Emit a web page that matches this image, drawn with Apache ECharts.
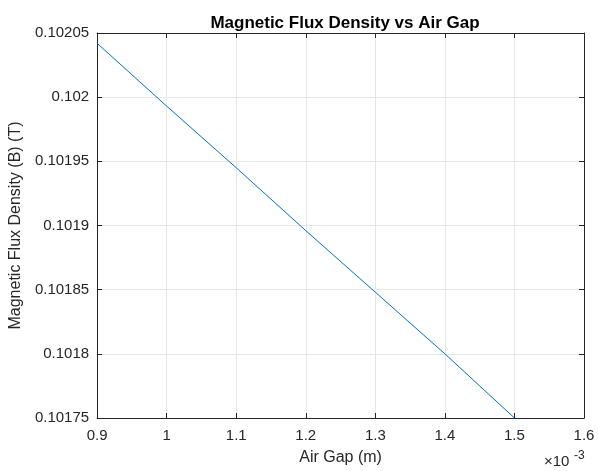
<!DOCTYPE html>
<html>
<head>
<meta charset="utf-8">
<script src="https://cdn.jsdelivr.net/npm/echarts@6/dist/echarts.min.js"></script>
<style>
  html, body { margin: 0; padding: 0; background: #fff; }
  #chart { width: 598px; height: 471px; }
</style>
</head>
<body>
<div id="chart"></div>
<script>
// air gap in units of 1e-3 m
const airGap = [0.9, 1.0, 1.1, 1.2, 1.3, 1.4, 1.5]
// magnetic flux density (T)
const fluxDensity = [0.102042, 0.101993, 0.101945, 0.101896, 0.101848, 0.1018, 0.10175]

const font = 'Liberation Sans, Arial, sans-serif'
const axisColor = '#262626'
const gridColor = '#e6e6e6'

const myEchart = echarts.init(document.getElementById('chart'))

const baseX = {
  type: 'value',
  min: 0.9,
  max: 1.6,
  interval: 0.1,
  axisLine: { show: true, onZero: false, lineStyle: { color: axisColor, width: 1 } },
  axisTick: { show: true, inside: true, length: 5, lineStyle: { color: axisColor } }
}
const baseY = {
  type: 'value',
  min: 0.10175,
  max: 0.10205,
  interval: 0.00005,
  axisLine: { show: true, onZero: false, lineStyle: { color: axisColor, width: 1 } },
  axisTick: { show: true, inside: true, length: 5, lineStyle: { color: axisColor } }
}

const option = {
  animation: false,
  backgroundColor: '#fff',
  title: {
    text: 'Magnetic Flux Density vs Air Gap',
    left: 340,
    textAlign: 'center',
    top: 10,
    textStyle: { fontFamily: font, fontSize: 17, fontWeight: 'bold', color: '#000' }
  },
  grid: { left: 96, right: 14, top: 33, bottom: 51, containLabel: false },
  xAxis: [
    {
      ...baseX,
      position: 'bottom',
      name: 'Air Gap (m)',
      nameLocation: 'middle',
      nameGap: 32,
      nameTextStyle: { fontFamily: font, fontSize: 16, color: axisColor },
      axisLabel: {
        fontFamily: font, fontSize: 15, color: axisColor, margin: 10,
        formatter: (v) => String(parseFloat(v.toFixed(2)))
      },
      splitLine: { show: true, lineStyle: { color: gridColor, width: 1 } }
    },
    { ...baseX, position: 'top', axisLabel: { show: false }, splitLine: { show: false } }
  ],
  yAxis: [
    {
      ...baseY,
      position: 'left',
      name: 'Magnetic Flux Density (B) (T)',
      nameLocation: 'middle',
      nameGap: 69,
      nameTextStyle: { fontFamily: font, fontSize: 16, color: axisColor },
      axisLabel: {
        fontFamily: font, fontSize: 15, color: axisColor, margin: 8,
        formatter: (v) => String(parseFloat(v.toFixed(5)))
      },
      splitLine: { show: true, lineStyle: { color: gridColor, width: 1 } }
    },
    { ...baseY, position: 'right', axisLabel: { show: false }, splitLine: { show: false } }
  ],
  graphic: [
    {
      type: 'text',
      left: 544,
      top: 454,
      style: { text: '×10', fontFamily: font, fontSize: 15, fill: axisColor }
    },
    {
      type: 'text',
      left: 574,
      top: 450,
      style: { text: '-3', fontFamily: font, fontSize: 12, fill: axisColor }
    }
  ],
  series: [
    {
      type: 'line',
      data: airGap.map((x, i) => [x, fluxDensity[i]]),
      showSymbol: false,
      lineStyle: { color: '#0072BD', width: 1 },
      itemStyle: { color: '#0072BD' }
    }
  ]
}
myEchart.setOption(option)
</script>
</body>
</html>
